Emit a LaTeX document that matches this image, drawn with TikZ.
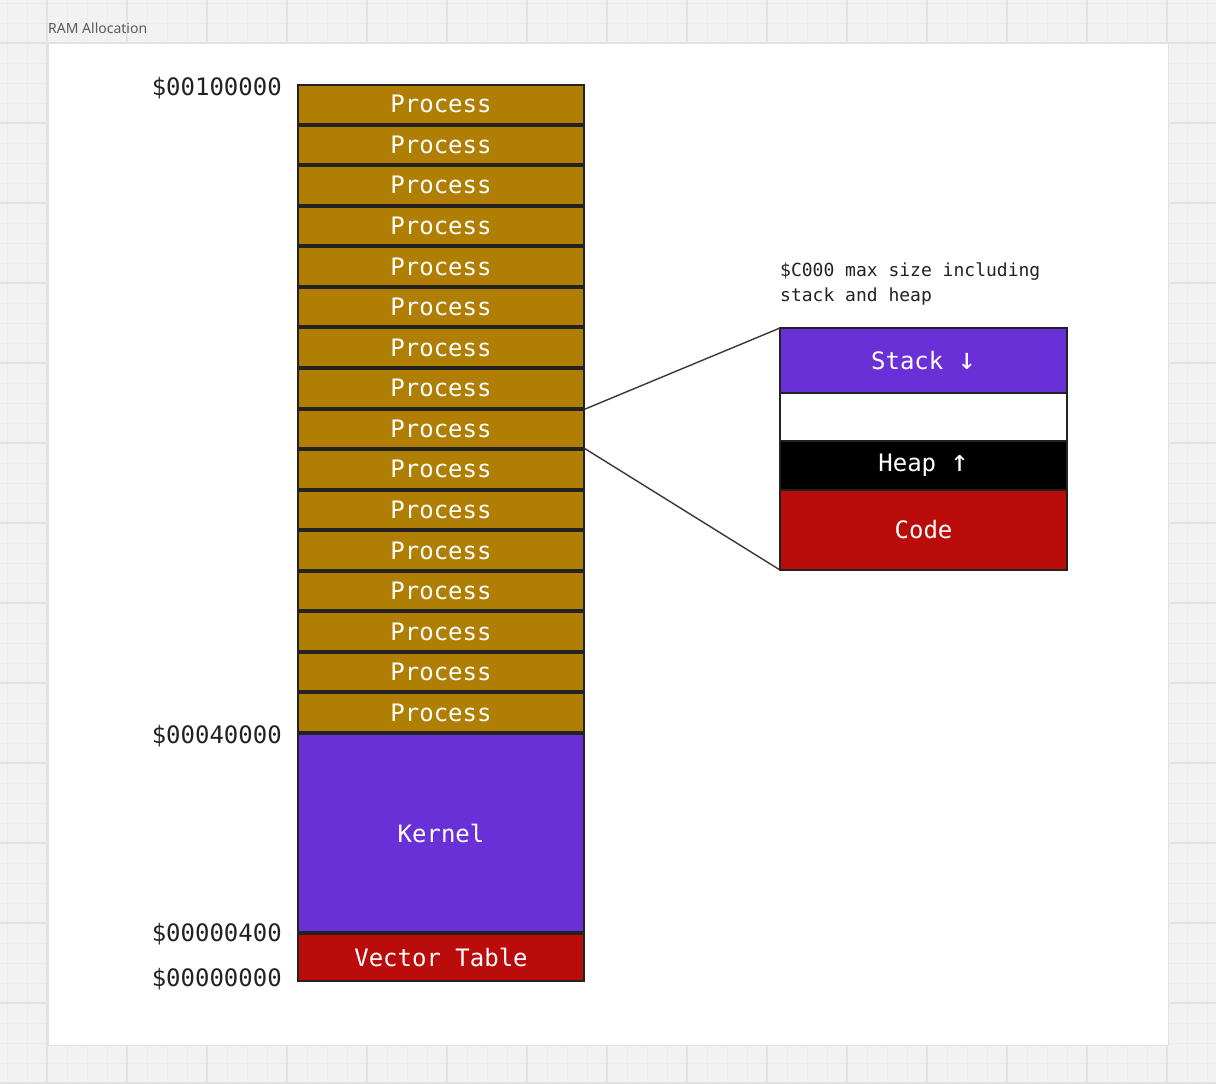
\documentclass[tikz,border=0pt]{standalone}
\usepackage{fontspec}
\setmainfont{Noto Sans}
\newfontfamily\monofnt{DejaVu Sans Mono}
\definecolor{bgc}{HTML}{F2F2F2}
\definecolor{minorc}{HTML}{ECECEC}
\definecolor{majorc}{HTML}{E2E2E2}
\definecolor{procc}{HTML}{AF7E03}
\definecolor{kernc}{HTML}{6930D8}
\definecolor{vecc}{HTML}{BB0C0C}
\definecolor{edgec}{HTML}{222222}
\definecolor{titlec}{HTML}{5A5A5A}
\newcommand{\bigarrow}[1]{{\fontsize{30}{30}\selectfont #1}}
\tikzset{
  membox/.style={draw=edgec, line width=2pt, inner sep=0pt, outer sep=0pt,
    minimum width=286pt, text=white, font=\monofnt\fontsize{24}{28}\selectfont},
  procbox/.style={membox, fill=procc, minimum height=38.56pt},
  detbox/.style={draw=edgec, line width=1.6pt, inner sep=0pt, outer sep=0pt,
    minimum width=287pt, text=white, font=\monofnt\fontsize{24}{28}\selectfont},
  addr/.style={anchor=east, inner sep=0pt, text=edgec, font=\monofnt\fontsize{24}{28}\selectfont},
  zoomline/.style={draw=edgec!90, line width=1.4pt},
}
\begin{document}
\begin{tikzpicture}[x=1pt,y=-1pt]
\useasboundingbox (0,0) rectangle (1216,1084);
% canvas background
\fill[bgc] (0,0) rectangle (1216,1084);
\foreach \i in {0,...,60} \draw[minorc, line width=1pt] ({7+20*\i},0) -- ({7+20*\i},1084);
\foreach \j in {0,...,54} \draw[minorc, line width=1pt] (0,{3+20*\j}) -- (1216,{3+20*\j});
\foreach \i in {0,...,14} \draw[majorc, line width=1.2pt] ({47+80*\i},0) -- ({47+80*\i},1084);
\foreach \j in {0,...,13} \draw[majorc, line width=1.2pt] (0,{43+80*\j}) -- (1216,{43+80*\j});
% panel
\filldraw[fill=white, draw=majorc, line width=1pt] (48,43) rectangle (1168,1045);
\node[anchor=base west, inner sep=0pt, text=titlec, font=\fontsize{14}{16}\selectfont] (title) at (48,33) {RAM Allocation};
% process stack
\foreach \k in {0,...,15} {
  \node[procbox] (p\k) at (441,{84+40.5625*(\k+0.5)}) {Process};
}
\node[membox, fill=kernc, minimum height=198pt] (kernel) at (441,833) {Kernel};
\node[membox, fill=vecc, minimum height=47pt] (vector) at (441,957.5) {Vector Table};
% addresses
\node[addr] (a1) at (282,88) {\$00100000};
\node[addr] (a2) at (282,736) {\$00040000};
\node[addr] (a3) at (282,934) {\$00000400};
\node[addr] (a4) at (282,979) {\$00000000};
% detail
\node[anchor=north west, inner sep=0pt, align=left, text=edgec, font=\monofnt\fontsize{18}{25}\selectfont] (note) at (780,263) {\$C000 max size including\\stack and heap};
\node[detbox, fill=kernc, minimum height=65pt] (stack) at (923.5,360.5) {Stack \bigarrow{↓}};
\node[detbox, fill=white, minimum height=48pt] (free) at (923.5,417) {};
\node[detbox, fill=black, minimum height=49pt] (heap) at (923.5,465.5) {Heap \bigarrow{↑}};
\node[detbox, fill=vecc, minimum height=80pt] (code) at (923.5,530) {Code};
% zoom connectors
\draw[zoomline] (p8.north east) -- (stack.north west);
\draw[zoomline] (p8.south east) -- (code.south west);
\end{tikzpicture}
\end{document}
